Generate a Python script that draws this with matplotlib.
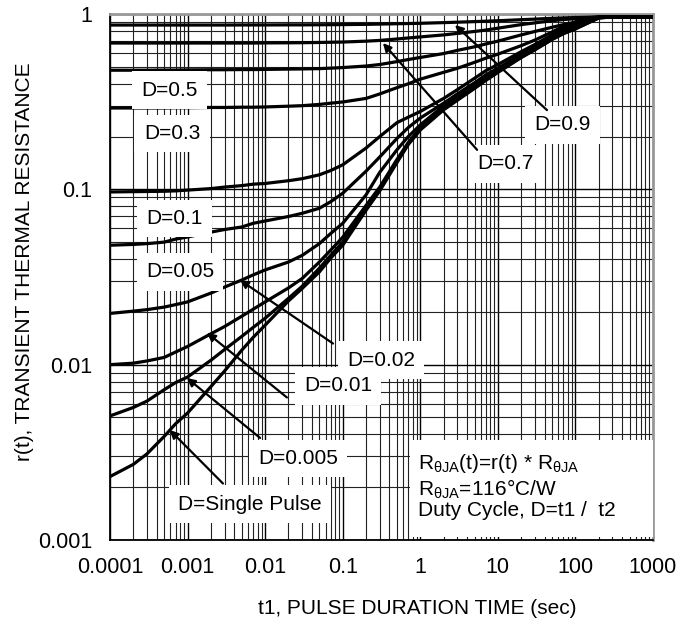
import matplotlib
matplotlib.use("Agg")
import matplotlib.pyplot as plt
from matplotlib.patches import Rectangle

plt.rcParams['font.family'] = ['Liberation Sans', 'DejaVu Sans']
plt.rcParams['mathtext.fontset'] = 'custom'
plt.rcParams['mathtext.rm'] = 'Liberation Sans'
plt.rcParams['mathtext.it'] = 'Liberation Sans:italic'

# ---------------- data ----------------
t1 = [1e-4, 2e-4, 3e-4, 5e-4, 7e-4,
      1e-3, 2e-3, 3e-3, 5e-3, 7e-3,
      1e-2, 2e-2, 3e-2, 5e-2, 7e-2,
      0.1, 0.2, 0.3, 0.5, 0.7,
      1, 2, 3, 5, 7,
      10, 20, 30, 50, 70,
      100, 200, 300, 500, 700, 1000]

r_d09 = [0.865, 0.865, 0.865, 0.865, 0.865,
         0.865, 0.865, 0.865, 0.866, 0.866,
         0.866, 0.867, 0.867, 0.868, 0.869,
         0.870, 0.873, 0.876, 0.880, 0.882,
         0.885, 0.893, 0.898, 0.905, 0.910,
         0.915, 0.928, 0.935, 0.945, 0.950,
         0.955, 0.962, 0.962, 0.962, 0.962, 0.962]
r_d07 = [0.683, 0.683, 0.683, 0.683, 0.683,
         0.683, 0.683, 0.683, 0.683, 0.683,
         0.684, 0.685, 0.686, 0.688, 0.690,
         0.692, 0.700, 0.707, 0.720, 0.730,
         0.740, 0.760, 0.775, 0.795, 0.810,
         0.830, 0.870, 0.890, 0.915, 0.930,
         0.940, 0.962, 0.962, 0.962, 0.962, 0.962]
r_d05 = [0.478, 0.478, 0.478, 0.479, 0.479,
         0.480, 0.481, 0.481, 0.482, 0.482,
         0.483, 0.485, 0.486, 0.488, 0.491,
         0.495, 0.505, 0.515, 0.535, 0.550,
         0.565, 0.595, 0.620, 0.650, 0.675,
         0.700, 0.760, 0.795, 0.840, 0.870,
         0.900, 0.962, 0.962, 0.962, 0.962, 0.962]
r_d03 = [0.291, 0.291, 0.291, 0.291, 0.292,
         0.292, 0.293, 0.293, 0.294, 0.294,
         0.295, 0.298, 0.300, 0.305, 0.310,
         0.315, 0.330, 0.350, 0.380, 0.400,
         0.425, 0.465, 0.490, 0.530, 0.560,
         0.590, 0.660, 0.710, 0.790, 0.850,
         0.895, 0.962, 0.962, 0.962, 0.962, 0.962]
r_d01 = [0.0966, 0.0970, 0.0972, 0.0975, 0.0980,
         0.0990, 0.1010, 0.1030, 0.1050, 0.1070,
         0.108, 0.112, 0.115, 0.121, 0.128,
         0.138, 0.172, 0.200, 0.240, 0.258,
         0.278, 0.330, 0.370, 0.430, 0.475,
         0.515, 0.610, 0.670, 0.760, 0.820,
         0.870, 0.962, 0.962, 0.962, 0.962, 0.962]
r_d005 = [0.0480, 0.0485, 0.0490, 0.0500, 0.0520,
          0.0535, 0.0570, 0.0590, 0.0610, 0.0640,
          0.066, 0.070, 0.073, 0.078, 0.085,
          0.095, 0.127, 0.153, 0.195, 0.225,
          0.255, 0.310, 0.350, 0.405, 0.450,
          0.490, 0.590, 0.650, 0.740, 0.800,
          0.850, 0.962, 0.962, 0.962, 0.962, 0.962]
r_d002 = [0.0196, 0.0202, 0.0206, 0.0213, 0.0220,
          0.0228, 0.0256, 0.0277, 0.0304, 0.0325,
          0.0347, 0.0385, 0.0420, 0.0490, 0.0560,
          0.0640, 0.093, 0.125, 0.168, 0.200,
          0.233, 0.300, 0.335, 0.390, 0.430,
          0.480, 0.580, 0.640, 0.730, 0.785,
          0.835, 0.955, 0.962, 0.962, 0.962, 0.962]
r_d001 = [0.0100, 0.0102, 0.0105, 0.0110, 0.0118,
          0.0127, 0.0150, 0.0165, 0.0189, 0.0207,
          0.0228, 0.0274, 0.0310, 0.0385, 0.0450,
          0.0533, 0.081, 0.103, 0.148, 0.185,
          0.224, 0.290, 0.328, 0.383, 0.425,
          0.472, 0.572, 0.632, 0.722, 0.780,
          0.830, 0.952, 0.962, 0.962, 0.962, 0.962]
r_d0005 = [0.0051, 0.0057, 0.0062, 0.0072, 0.0079,
           0.0085, 0.0106, 0.0122, 0.0145, 0.0163,
           0.0184, 0.0239, 0.0280, 0.0355, 0.0420,
           0.0500, 0.078, 0.100, 0.145, 0.182,
           0.220, 0.287, 0.325, 0.380, 0.422,
           0.468, 0.568, 0.628, 0.718, 0.776,
           0.826, 0.950, 0.962, 0.962, 0.962, 0.962]
r_single = [0.0023, 0.0027, 0.0031, 0.0039, 0.0046,
            0.0053, 0.0075, 0.0092, 0.0121, 0.0143,
            0.0168, 0.0231, 0.0272, 0.0338, 0.0405,
            0.0480, 0.076, 0.098, 0.142, 0.180,
            0.218, 0.284, 0.322, 0.376, 0.418,
            0.464, 0.564, 0.624, 0.715, 0.772,
            0.822, 0.950, 0.962, 0.962, 0.962, 0.962]

curves = [r_d09, r_d07, r_d05, r_d03, r_d01, r_d005, r_d002, r_d001, r_d0005, r_single]

x_ticks = [1e-4, 1e-3, 1e-2, 1e-1, 1, 10, 100, 1000]
x_ticklabels = ['0.0001', '0.001', '0.01', '0.1', '1', '10', '100', '1000']
y_ticks = [1e-3, 1e-2, 1e-1, 1]
y_ticklabels = ['0.001', '0.01', '0.1', '1']

# labels placed directly (text, x, y)
plain_labels = [('D=0.5', 5.9e-4, 0.368), ('D=0.3', 6.3e-4, 0.208),
                ('D=0.1', 6.7e-4, 0.0682), ('D=0.05', 8.0e-4, 0.0338)]
# labels with arrows (text, label x, label y, tail x, tail y, tip x, tip y)
arrow_labels = [
    ('D=0.9', 69, 0.233, 43, 0.283, 2.8, 0.865),
    ('D=0.7', 12.7, 0.14, 5.4, 0.168, 0.33, 0.683),
    ('D=0.02', 0.312, 0.0106, 0.075, 0.0132, 0.00474, 0.0304),
    ('D=0.01', 0.087, 0.00757, 0.0191, 0.0065, 0.00178, 0.0152),
    ('D=0.005', 0.0266, 0.00292, 0.0086, 0.00382, 9.8e-4, 0.0084),
    ('D=Single Pulse', 0.00638, 0.0016, 0.00286, 0.0021, 5.9e-4, 0.00424),
]

info_lines = [r'R$_\mathregular{θJA}$(t)=r(t) * R$_\mathregular{θJA}$',
              r'R$_\mathregular{θJA}$=116°C/W',
              'Duty Cycle, D=t1 /  t2']

# ---------------- figure ----------------
fig = plt.figure(figsize=(6.92, 6.26), dpi=100)
ax = fig.add_axes([110/692, 1-540/626, 543/692, 526/626])
ax.set_xscale('log')
ax.set_yscale('log')
ax.set_xlim(1e-4, 1e3)
ax.set_ylim(1e-3, 1)

ax.grid(True, which='major', color='black', lw=1.0, zorder=0)
ax.grid(True, which='minor', color='#222222', lw=0.8, zorder=0)
ax.set_axisbelow(True)

for c in curves:
    ax.plot(t1, c, color='black', lw=2.3, solid_capstyle='round',
            solid_joinstyle='round', zorder=3)

ax.set_xticks(x_ticks)
ax.set_xticklabels(x_ticklabels)
ax.set_yticks(y_ticks)
ax.set_yticklabels(y_ticklabels)
ax.tick_params(which='both', length=0, labelsize=15.5)
ax.tick_params(axis='x', pad=12)
ax.tick_params(axis='y', pad=13)

for s in ['left', 'bottom']:
    ax.spines[s].set_color('black'); ax.spines[s].set_linewidth(1.3)
for s in ['top', 'right']:
    ax.spines[s].set_color('#999999'); ax.spines[s].set_linewidth(2.0)

bbox = dict(boxstyle='square,pad=0.45', fc='white', ec='none')
for txt, x, y in plain_labels:
    ax.text(x, y, txt, fontsize=15, ha='center', va='center', bbox=bbox, zorder=4)

for txt, lx, ly, ax_, ay_, tx, ty in arrow_labels:
    ax.text(lx, ly, txt, fontsize=15, ha='center', va='center', bbox=bbox, zorder=4)
    ax.annotate('', xy=(tx, ty), xytext=(ax_, ay_),
                arrowprops=dict(arrowstyle='-|>', color='black', lw=1.6,
                                mutation_scale=12, shrinkA=0, shrinkB=0),
                zorder=5)

ax.add_patch(Rectangle((300/543, 0.006), 1-300/543, 0.184, transform=ax.transAxes,
                       fc='white', ec='none', zorder=4))
for line, yy in zip(info_lines, [0.1445, 0.097, 0.057]):
    ax.text(0.567, yy, line, transform=ax.transAxes, fontsize=15,
            ha='left', va='center', zorder=5)

fig.text(417/692, 1-609/626, 't1, PULSE DURATION TIME (sec)', fontsize=15,
         ha='center', va='center')
fig.text(25/692, 1-262/626, 'r(t), TRANSIENT THERMAL RESISTANCE', fontsize=15,
         ha='center', va='center', rotation=90)

fig.savefig('out.png', dpi=100)
